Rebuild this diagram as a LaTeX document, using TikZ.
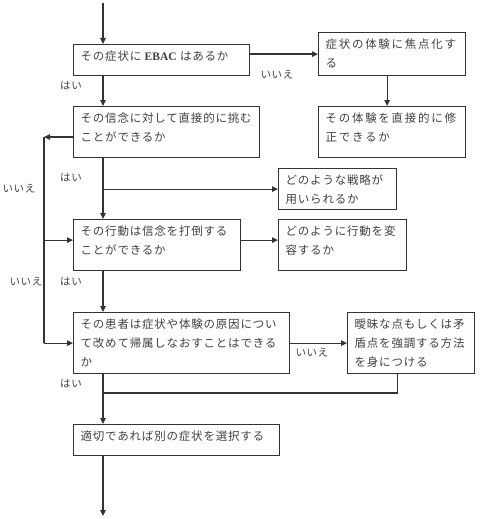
\documentclass[tikz,border=0pt]{standalone}
\usepackage{fontspec}
\setmainfont{Liberation Serif}
\newfontfamily\jp[LetterSpace=7]{Noto Sans CJK JP}
\newfontfamily\jpw[LetterSpace=15]{Noto Sans CJK JP}
\newfontfamily\lat{Liberation Serif}
\usetikzlibrary{arrows.meta}
\definecolor{ink}{HTML}{333333}
\definecolor{txt}{HTML}{404040}
% box text: width, height, lines (top left aligned)
\newcommand{\qtxt}[3]{\parbox[t][#2pt][t]{#1pt}{\rule{0pt}{15.5pt}#3}}

\begin{document}
\begin{tikzpicture}[x=1pt, y=-1pt,
    qbox/.style={draw=ink, line width=1.2pt, anchor=north west, inner xsep=7pt,
      inner ysep=0pt, text=txt, font=\jp\fontsize{11.5}{19.3}\selectfont},
    wide/.style={font=\jpw\fontsize{11.5}{19.3}\selectfont},
    lbl/.style={text=txt, inner sep=0pt, font=\jp\fontsize{10.5}{12}\selectfont},
    wire/.style={draw=ink, line width=1.2pt},
    arr/.style={wire, -{Triangle[length=6pt, width=5.5pt]}}]
  \useasboundingbox (0,0) rectangle (480,519);

  % boxes
  \node[qbox] (ebac) at (73,44) {\qtxt{162}{31}{その症状に {\lat\bfseries EBAC} はあるか}};
  \node[qbox, wide] (focus) at (318,32) {\qtxt{133}{43}{症状の体験に焦点化す\\る}};
  \node[qbox] (belief) at (73,106) {\qtxt{172}{51}{その信念に対して直接的に挑む\\ことができるか}};
  \node[qbox, wide] (modify) at (318,106) {\qtxt{133}{51}{その体験を直接的に修\\正できるか}};
  \node[qbox] (strategy) at (278,168) {\qtxt{104}{41}{どのような戦略が\\用いられるか}};
  \node[qbox] (behave) at (73,219) {\qtxt{153}{51}{その行動は信念を打倒する\\ことができるか}};
  \node[qbox] (change) at (278,219) {\qtxt{114}{51}{どのように行動を変\\容するか}};
  \node[qbox] (reattr) at (73,312) {\qtxt{202}{61}{その患者は症状や体験の原因につい\\て改めて帰属しなおすことはできる\\か}};
  \node[qbox] (ambig) at (347,312) {\qtxt{113}{61}{曖昧な点もしくは矛\\盾点を強調する方法\\を身につける}};
  \node[qbox] (other) at (73,424) {\qtxt{192}{31}{適切であれば別の症状を選択する}};

  % yes / no labels
  \node[lbl] (yes1) at (71,86) {はい};
  \node[lbl] (no1) at (277,75) {いいえ};
  \node[lbl] (yes2) at (71,178) {はい};
  \node[lbl] (no2) at (19,189) {いいえ};
  \node[lbl] (yes3) at (71,282) {はい};
  \node[lbl] (no3) at (26,282) {いいえ};
  \node[lbl] (no4) at (312,353) {いいえ};
  \node[lbl] (yes4) at (71,384) {はい};

  \coordinate (start) at (103,3);
  \coordinate (finish) at (103,516);
  \coordinate (loop) at (44,137);
  \coordinate (join) at (103,393);
  \coordinate (bhE) at ([yshift=5pt]behave.east);
  \coordinate (bhW) at ([yshift=5pt]behave.west);

  % main line
  \draw[arr] (start) -- (start |- ebac.north);
  \draw[arr] (start |- ebac.south) -- (start |- belief.north);
  \draw[arr] (start |- belief.south) -- (start |- behave.north);
  \draw[arr] (start |- behave.south) -- (start |- reattr.north);
  \draw[arr] (start |- reattr.south) -- (start |- other.north);
  \draw[arr] (start |- other.south) -- (finish);

  % side branches
  \draw[arr] (ebac.east |- focus.west) -- (focus.west);
  \draw[arr] ([xshift=-5pt]focus.south) -- ([xshift=-5pt]modify.north);
  \draw[arr] (start |- strategy.west) -- (strategy.west);
  \draw[arr] (bhE) -- (change.west |- bhE);
  \draw[arr] (reattr.east) -- (ambig.west);
  \draw[wire] ([xshift=-14pt]ambig.south) |- (join);

  % "no" loop on the left
  \draw[arr] (belief.west |- loop) -- (loop);
  \draw[wire] (loop) -- (loop |- reattr.west);
  \draw[arr] (loop |- bhW) -- (bhW);
  \draw[arr] (loop |- reattr.west) -- (reattr.west);
\end{tikzpicture}
\end{document}
